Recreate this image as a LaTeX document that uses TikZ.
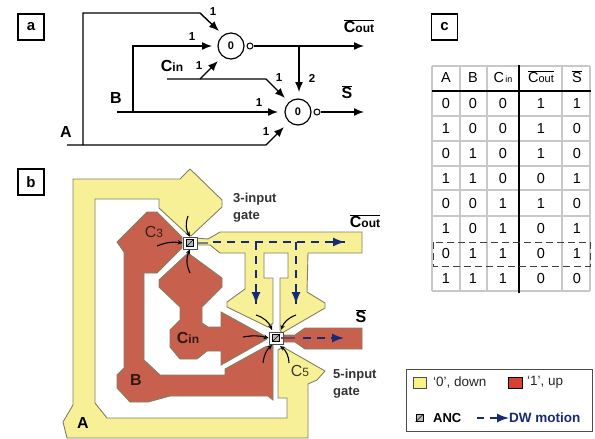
\documentclass[tikz,border=0pt]{standalone}
\usepackage{fontspec}
\usetikzlibrary{calc,arrows.meta}
\setmainfont{Liberation Sans}
\definecolor{wallY}{RGB}{248,240,150}
\definecolor{wallR}{RGB}{200,96,78}
\definecolor{edgeW}{RGB}{128,128,100}
\definecolor{dwblue}{RGB}{22,42,120}
\definecolor{gridc}{RGB}{200,200,200}
\newcommand{\barred}[1]{$\overline{\mbox{#1}}$}
\newcommand{\Cout}{C{\fontsize{12}{12}\selectfont\bfseries out}}
\newcommand{\Cin}{C{\fontsize{12}{12}\selectfont\bfseries in}}
\tikzset{
	panel/.style={draw, line width=1.2pt, minimum size=26pt, inner sep=0pt, font=\fontsize{15}{15}\selectfont\bfseries},
	gate/.style={draw, circle, line width=1.2pt, minimum size=26pt, inner sep=0pt, font=\fontsize{11}{11}\selectfont\bfseries},
	bubble/.style={draw, circle, line width=1pt, minimum size=6pt, inner sep=0pt},
	wire/.style={line width=1.4pt},
	lab/.style={font=\fontsize{16}{16}\selectfont\bfseries, inner sep=0pt},
	num/.style={font=\fontsize{11.5}{11.5}\selectfont\bfseries, inner sep=0pt},
	small/.style={font=\fontsize{13}{17}\selectfont\bfseries, text=black!80, inner sep=0pt, align=left, anchor=west},
	cell/.style={font=\fontsize{14.5}{14.5}\selectfont, inner sep=0pt},
	walY/.style={draw=edgeW, fill=wallY, line width=.9pt},
	walR/.style={draw=edgeW, fill=wallR, line width=.9pt},
	anc/.style={draw=black, fill=gray!55, line width=.8pt, minimum size=7pt, inner sep=0pt},
	ancbox/.style={draw=black!70, fill=white, line width=.6pt, minimum size=13pt, inner sep=0pt},
	dw/.style={dwblue, line width=1.4pt, dash pattern=on 8pt off 6pt},
	dwtip/.style={dwblue, line width=1.4pt, -{Latex[length=12pt,width=9pt]}},
	curl/.style={black, line width=1.1pt, -{Stealth[length=5pt,width=4.5pt]}},
	legtext/.style={font=\fontsize{13.5}{13.5}\selectfont, anchor=west, inner sep=0pt, text=black!85},
}
\begin{document}
\begin{tikzpicture}[>={Latex[length=10pt,width=8pt]}, x=1pt, y=-1pt]
	\useasboundingbox (0,0) rectangle (595,439);

	% --- Panel a ---
	\node[panel] (pa) at (31,27) {a};
	\node[gate] (g1) at (231,46) {0};
	\node[gate] (g2) at (298,112) {0};
	\node[bubble] (b1) at (250,46) {};
	\node[bubble] (b2) at (317,112) {};
	\node[lab] (la) at (66,132) {A};
	\node[lab] (lb) at (116,98) {B};
	\node[lab] (lc) at (172,66) {\Cin};
	\node[lab] (lo) at (359,26) {\barred{\Cout}};
	\node[lab] (ls) at (347,92) {\barred{S}};
	\coordinate (a0) at (67,145);
	\coordinate (a1) at (83,145);
	\coordinate (a2) at (83,13);
	\coordinate (a3) at (200,13);
	\coordinate (a4) at (219,31);
	\coordinate (a5) at (266,145);
	\coordinate (a6) at (284,127);
	\coordinate (b0) at (117,112);
	\coordinate (bj) at (133,112);
	\coordinate (bt) at (133,46);
	\coordinate (be) at (212,46);
	\coordinate (bf) at (278,112);
	\coordinate (c0) at (167,79);
	\coordinate (cj) at (200,79);
	\coordinate (c1) at (218,61);
	\coordinate (c2) at (266,79);
	\coordinate (c3) at (285,98);
	\coordinate (oj) at (299,46);
	\coordinate (oe) at (364,46);
	\coordinate (od) at (299,92);
	\coordinate (se) at (364,112);
	\draw[wire,->] (a1) -- (a2) -- (a3) -- (a4);
	\draw[wire,->] (a0) -- (a5) -- (a6);
	\draw[wire,->] (bj) -- (bt) -- (be);
	\draw[wire,->] (b0) -- (bf);
	\draw[wire,->] (cj) -- (c1);
	\draw[wire,->] (c0) -- (c2) -- (c3);
	\draw[wire,->] (b1) -- (oe);
	\draw[wire,->] (oj) -- (od);
	\draw[wire,->] (b2) -- (se);
	\node[num] (n1) at (213,12) {1};
	\node[num] (n2) at (192,37) {1};
	\node[num] (n3) at (199,66) {1};
	\node[num] (n4) at (279,78) {1};
	\node[num] (n5) at (259,103) {1};
	\node[num] (n6) at (266,132) {1};
	\node[num] (n7) at (312,78) {2};

	% --- Panel b ---
	\node[panel] (pb) at (31,182) {b};
	% ingresso A
	\draw[walY] (73,179) -- (180,179) -- (190,169) -- (222,200) -- (222,207) -- (191,236) -- (186,233)
		-- (159,208) -- (159,199) -- (95,199) -- (95,403) -- (107,418) -- (287,418) -- (287,398) -- (278,398)
		-- (278,350) -- (283,347) -- (325,371) -- (317,380) -- (308,384) -- (308,438) -- (67,438)
		-- (63,422) -- (73,405) -- cycle;
	% ingresso B
	\draw[walR] (117,242) -- (147,212) -- (157,212) -- (182,237) -- (182,248) -- (157,273) -- (144,273)
		-- (144,360) -- (160,375) -- (225,375) -- (225,369) -- (265,347) -- (273,345) -- (273,400)
		-- (268,396) -- (170,396) -- (148,402) -- (130,402) -- (117,388) -- (117,375) -- (124,368)
		-- (124,252) -- cycle;
	% ingresso Cin
	\draw[walR] (188,253) -- (222,278) -- (222,287) -- (202,307) -- (202,323) -- (208,327) -- (221,327)
		-- (221,312) -- (263,335) -- (267,339) -- (221,365) -- (221,351) -- (207,351) -- (197,359)
		-- (180,359) -- (170,347) -- (170,330) -- (180,320) -- (180,307) -- (159,287) -- (159,280) -- cycle;
	% uscita Cout
	\draw[walY] (195,238) -- (208,239) -- (220,232) -- (362,232) -- (362,253) -- (308,253) -- (307,292)
		-- (325,303) -- (325,308) -- (282,333) -- (280,330) -- (280,278) -- (288,278) -- (288,253) -- (264,253)
		-- (264,278) -- (273,278) -- (273,323) -- (268,327) -- (227,307) -- (227,302) -- (245,289) -- (245,253)
		-- (220,253) -- (210,245) -- (195,245) -- cycle;
	% uscita S
	\draw[walR] (362,328) -- (362,349) -- (305,349) -- (295,342) -- (280,342) -- (280,335) -- (295,335)
		-- (305,328) -- cycle;
	% ANC
	\node[ancbox, minimum width=14pt, minimum height=12pt] (nb1) at (190,243) {};
	\node[ancbox, minimum width=14pt, minimum height=12pt] (nb2) at (276,338) {};
	\node[anc] (an1) at (190,243) {};
	\node[anc] (an2) at (276,338) {};
	\draw[gray, line width=1.2pt] (198,243) -- (208,243);
	\draw[dwblue!50!wallR, line width=1.2pt] (281,338) -- (295,338);
	% moto DW
	\coordinate (d0) at (213,242);
	\coordinate (d1) at (345,242);
	\coordinate (d2) at (256,242);
	\coordinate (d3) at (256,304);
	\coordinate (d4) at (296,242);
	\coordinate (d5) at (296,304);
	\coordinate (d6) at (303,338);
	\coordinate (d7) at (344,338);
	\draw[dw] (d0) -- (d1);
	\draw[dw] (d2) -- (d3);
	\draw[dw] (d4) -- (d5);
	\draw[dw] (d6) -- (d7);
	\draw[dwtip] ($(d1)+(-13,0)$) -- (d1);
	\draw[dwtip] ($(d3)+(0,-13)$) -- (d3);
	\draw[dwtip] ($(d5)+(0,-13)$) -- (d5);
	\draw[dwtip] ($(d7)+(-13,0)$) -- (d7);
	% frecce curve
	\draw[curl] (188,216) to[bend right=25] (nb1.north);
	\draw[curl] (157,246) to[bend left=15] (nb1.west);
	\draw[curl] (190,273) to[bend left=25] (nb1.south);
	\draw[curl] (256,315) to[bend left=25] (272,330);
	\draw[curl] (296,315) to[bend right=25] (281,330);
	\draw[curl] (243,337) to[bend left=12] (nb2.west);
	\draw[curl] (263,363) to[bend left=20] (272,345);
	\draw[curl] (289,363) to[bend right=25] (280,346);
	% testi
	\node[lab, font=\fontsize{16}{16}\selectfont, text=wallR!30!black] (t3) at (154,232) {C{\fontsize{12}{12}\selectfont 3}};
	\node[lab, text=wallR!25!black] (tc) at (188,338) {\Cin};
	\node[lab, text=wallR!25!black] (tb) at (136,380) {B};
	\node[lab] (ta) at (83,423) {A};
	\node[lab, font=\fontsize{16}{16}\selectfont, text=black!75!wallY] (t5) at (300,371) {C{\fontsize{12}{12}\selectfont 5}};
	\node[small] (g3) at (233,208) {3-input\\gate};
	\node[small] (g5) at (333,384) {5-input\\gate};
	\node[lab] (to) at (365,221) {\barred{\Cout}};
	\node[lab] (ts) at (361,316) {\barred{S}};

	% --- Panel c ---
	\node[panel] (pc) at (444.5,27) {c};
	\foreach \x in {432,460,487,562,590}
		\draw[gridc, line width=1.1pt] (\x,66) -- (\x,291);
	\foreach \y in {66,116,141,166,190,216,291}
		\draw[gridc, line width=1.1pt] (432,\y) -- (590,\y);
	\node[cell] (hA) at (446,78) {A};
	\node[cell] (hB) at (473,78) {B};
	\node[cell] (hC) at (503,78) {C{\fontsize{9}{9}\selectfont\,in}};
	\node[cell] (hO) at (541,77) {\barred{C{\fontsize{11}{11}\selectfont out}}};
	\node[cell] (hS) at (577,77) {\barred{S}};
	\foreach \a/\b/\c/\o/\s [count=\r from 0] in {0/0/0/1/1,1/0/0/1/0,0/1/0/1/0,1/1/0/0/1,0/0/1/1/0,1/0/1/0/1,0/1/1/0/1,1/1/1/0/0} {
		\pgfmathsetmacro{\yy}{104+25*\r}
		\node[cell] (ra\r) at (446,\yy) {\a};
		\node[cell] (rb\r) at (473,\yy) {\b};
		\node[cell] (rc\r) at (503,\yy) {\c};
		\node[cell] (ro\r) at (541,\yy) {\o};
		\node[cell] (rs\r) at (577,\yy) {\s};
	}
	\draw[line width=1.3pt] (432,91) -- (591,91);
	\draw[line width=1.4pt] (519,65) -- (519,293);
	\draw[black!75, line width=1pt, dash pattern=on 7pt off 4pt] (433,242) rectangle (590,266);

	% --- Legenda ---
	\node[draw=black!70, line width=.8pt, minimum width=186pt, minimum height=62pt, inner sep=0pt] (leg) at (499,400) {};
	\node[draw=black!70, fill=wallY!90!yellow, line width=.8pt, minimum width=13pt, minimum height=11pt, inner sep=0pt] (ly) at (419.5,382.5) {};
	\node[draw=black, fill=red!35!wallR, line width=.8pt, minimum width=14pt, minimum height=11pt, inner sep=0pt] (lr) at (515,382.5) {};
	\node[anc] (ln) at (419.5,418) {};
	\foreach \n in {an1,an2,ln}
		\draw[black, line width=.5pt] (\n.south west) -- (\n.north east);
	\node[legtext] (ty) at (433,382) {`0', down};
	\node[legtext] (tr) at (527,382) {`1', up};
	\node[legtext, font=\fontsize{13}{13}\selectfont\bfseries, text=black] (tn) at (433,418) {ANC};
	\node[legtext, font=\fontsize{13.5}{13.5}\selectfont\bfseries, text=dwblue] (tw) at (509,418) {DW motion};
	\coordinate (l0) at (477,418);
	\coordinate (l1) at (484,418);
	\coordinate (l2) at (490,418);
	\draw[dwblue, line width=1.4pt] (l0) -- (l1);
	\draw[dwtip] (l2) -- (tw.west);
\end{tikzpicture}
\end{document}
